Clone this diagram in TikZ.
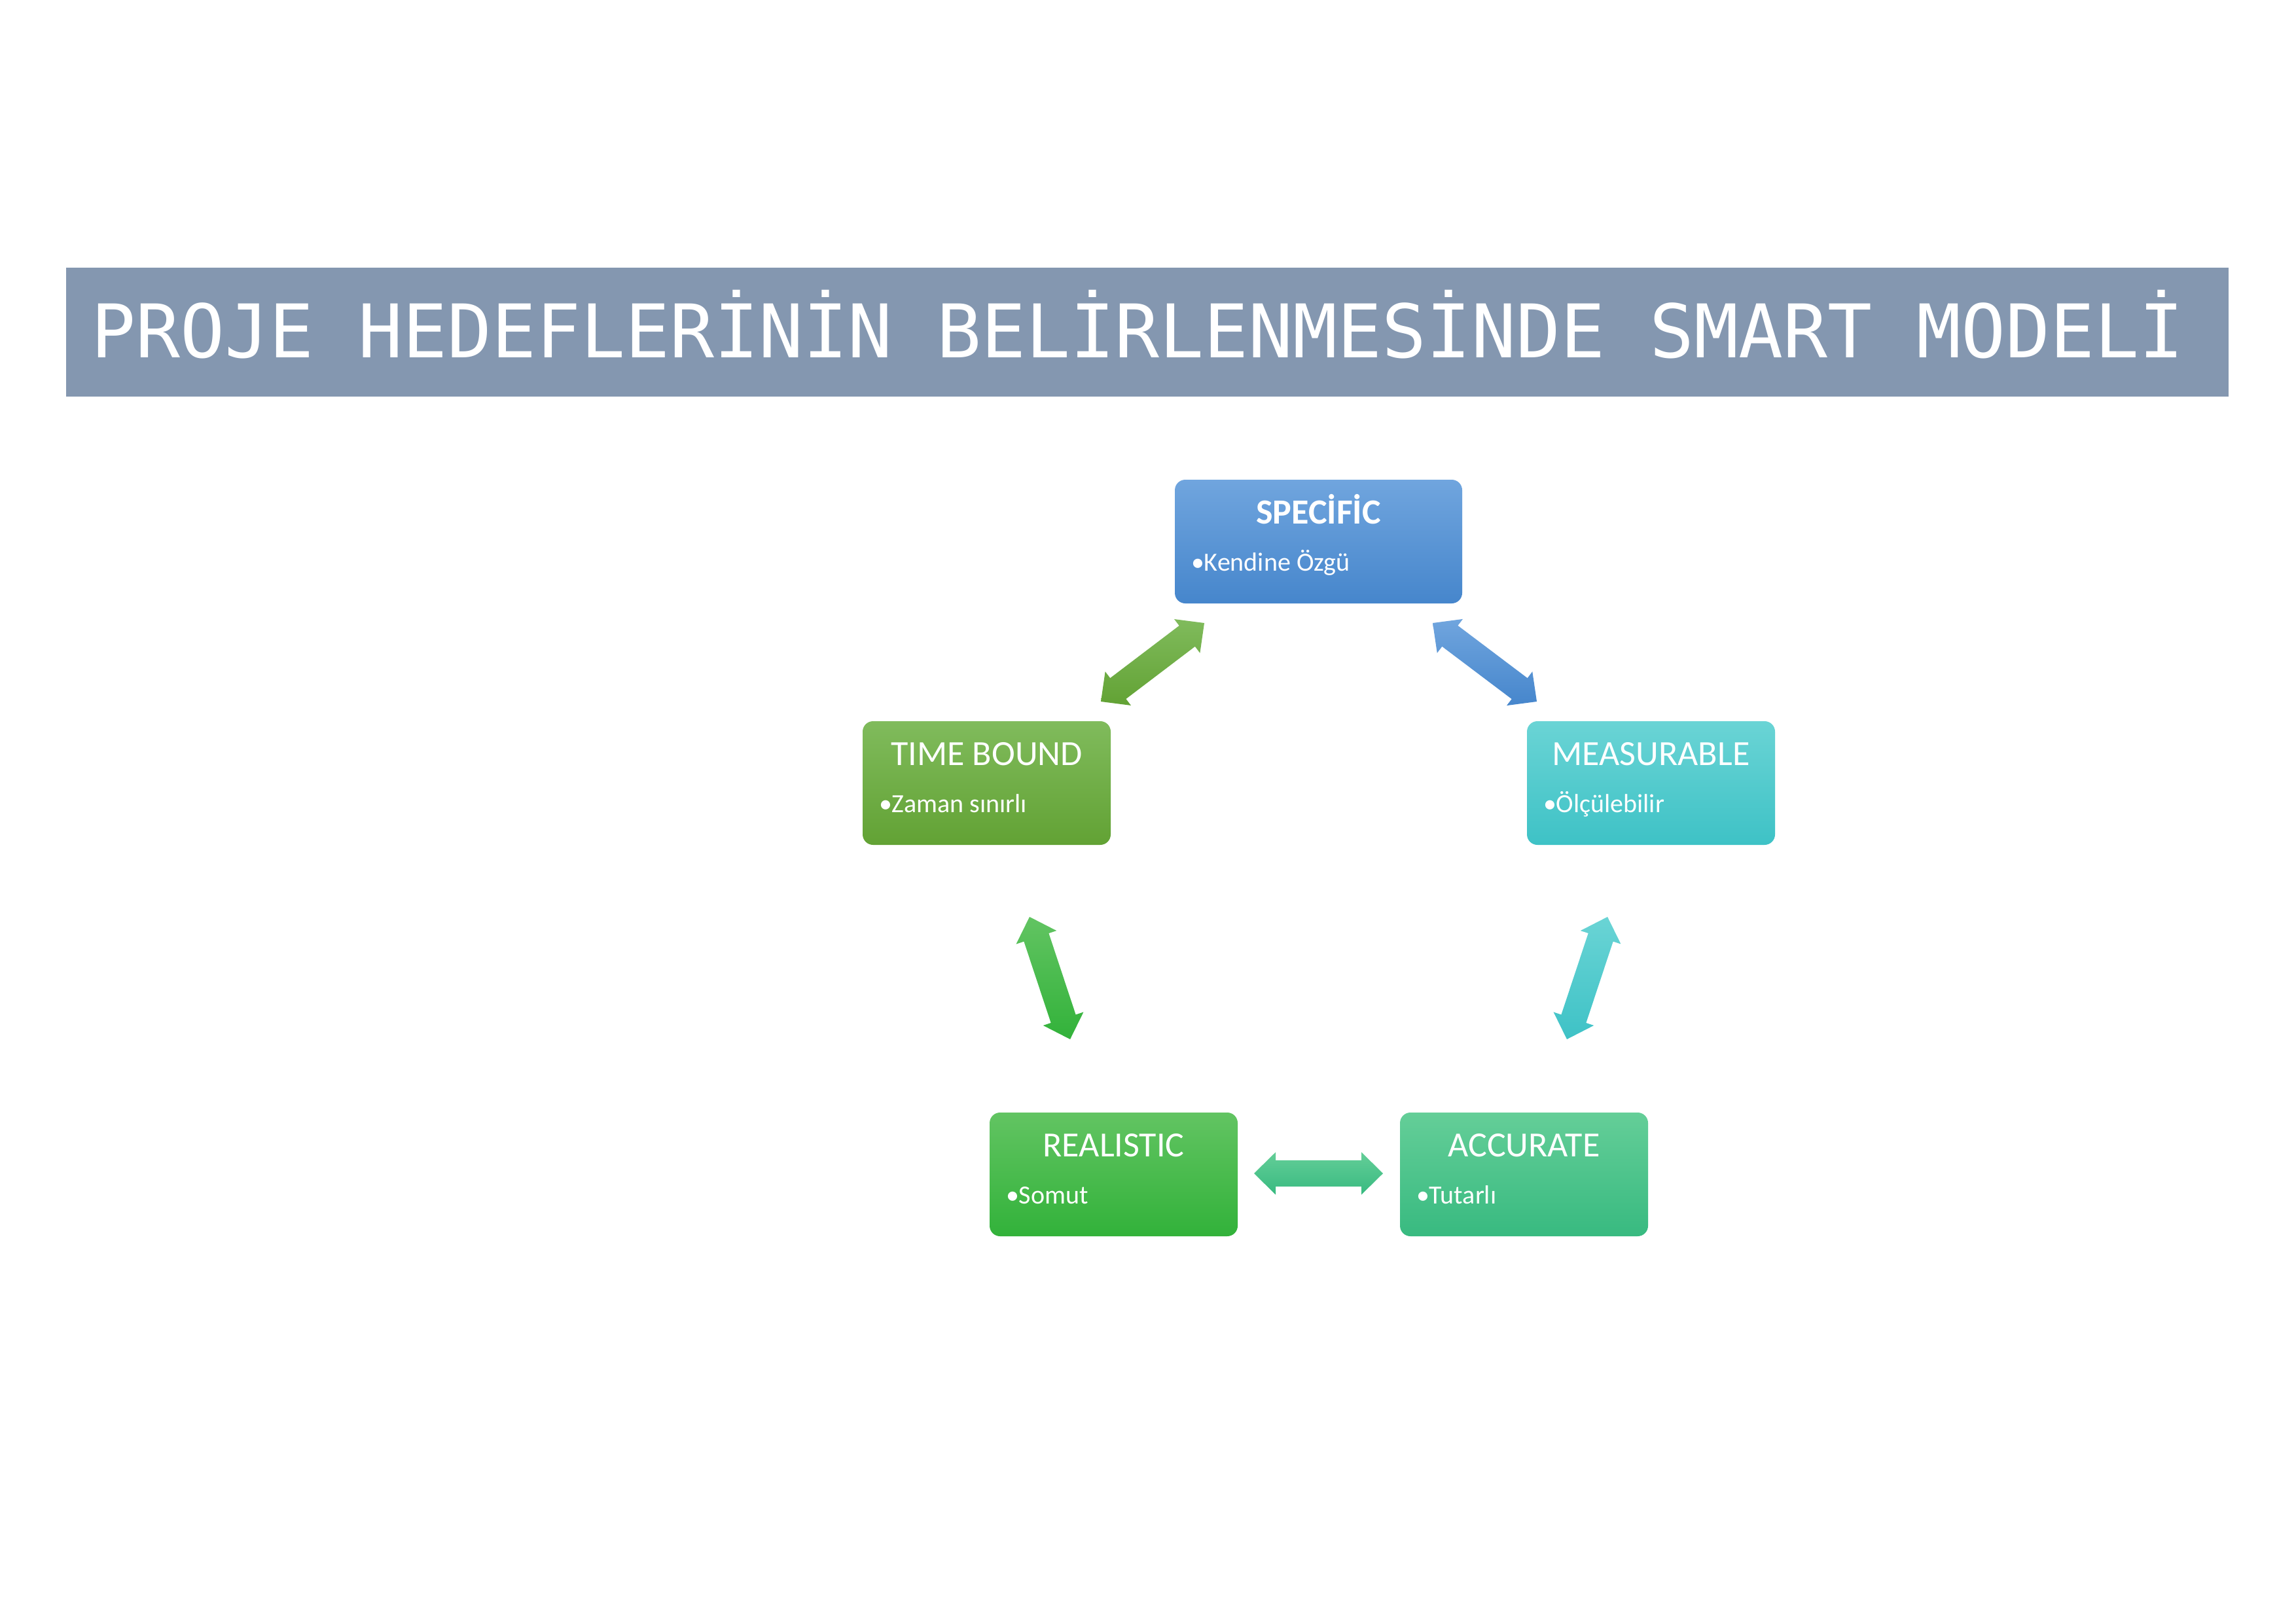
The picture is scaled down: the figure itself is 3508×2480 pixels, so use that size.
\documentclass[tikz,border=0pt]{standalone}
\usepackage{fontspec}
\setmainfont{Carlito}
\newfontfamily\titlemono{DejaVu Sans Mono}
\usetikzlibrary{calc}
\definecolor{barblue}{RGB}{132,151,176}
\definecolor{specT}{RGB}{112,165,222}
\definecolor{specB}{RGB}{70,134,204}
\definecolor{timeT}{RGB}{128,187,92}
\definecolor{timeB}{RGB}{98,162,52}
\definecolor{measT}{RGB}{106,212,213}
\definecolor{measB}{RGB}{62,194,198}
\definecolor{realT}{RGB}{98,196,98}
\definecolor{realB}{RGB}{50,178,58}
\definecolor{accT}{RGB}{100,206,152}
\definecolor{accB}{RGB}{56,186,128}
\newcommand{\dblarrow}[4]{%
\shade[top color=#3, bottom color=#4]
 (#1) -- ($(#1)!33pt!(#2)!32.5pt!90:(#2)$) -- ($(#1)!33pt!(#2)!20pt!90:(#2)$)
 -- ($(#2)!33pt!(#1)!20pt!-90:(#1)$) -- ($(#2)!33pt!(#1)!32.5pt!-90:(#1)$)
 -- (#2) -- ($(#2)!33pt!(#1)!32.5pt!90:(#1)$) -- ($(#2)!33pt!(#1)!20pt!90:(#1)$)
 -- ($(#1)!33pt!(#2)!20pt!-90:(#2)$) -- ($(#1)!33pt!(#2)!32.5pt!-90:(#2)$) -- cycle;}
\begin{document}
\begin{tikzpicture}[x=1pt,y=-1pt,
  box/.style={rectangle, rounded corners=16pt, minimum height=189pt, inner sep=0pt, draw=none},
  boxtitle/.style={anchor=base, text=white, font=\fontsize{54}{60}\selectfont, inner sep=0pt},
  bulletline/.style={anchor=base west, text=white, font=\fontsize{40}{46}\selectfont, inner sep=0pt},
]
\useasboundingbox (0,0) rectangle (3508,2480);
\fill[white] (0,0) rectangle (3508,2480);
\node[fill=barblue, anchor=north west, minimum width=3304pt, minimum height=197pt, inner sep=0pt] (bar) at (101,409) {};
\node[anchor=base west, text=white, font=\titlemono\fontsize{113}{120}\selectfont, inner sep=0pt] (title) at (139,546) {PROJE HEDEFLERİNİN BELİRLENMESİNDE SMART MODELİ};

% boxes
\node[box, minimum width=439pt, top color=specT, bottom color=specB] (spec) at (2014.5,827.5) {};
\node[boxtitle, font=\bfseries\fontsize{54}{60}\selectfont] (specH) at ($(spec.north)+(0,68)$) {SPECİFİC};
\node[bulletline] (specL) at ($(spec.north west)+(25,140)$) {•Kendine Özgü};

\node[box, minimum width=379pt, top color=timeT, bottom color=timeB] (time) at (1507.5,1196.5) {};
\node[boxtitle] (timeH) at ($(time.north)+(0,68)$) {TIME BOUND};
\node[bulletline] (timeL) at ($(time.north west)+(25,140)$) {•Zaman sınırlı};

\node[box, minimum width=379pt, top color=measT, bottom color=measB] (meas) at (2522.5,1196.5) {};
\node[boxtitle] (measH) at ($(meas.north)+(0,68)$) {MEASURABLE};
\node[bulletline] (measL) at ($(meas.north west)+(25,140)$) {•Ölçülebilir};

\node[box, minimum width=379pt, top color=realT, bottom color=realB] (real) at (1701.5,1794.5) {};
\node[boxtitle] (realH) at ($(real.north)+(0,68)$) {REALISTIC};
\node[bulletline] (realL) at ($(real.north west)+(25,140)$) {•Somut};

\node[box, minimum width=379pt, top color=accT, bottom color=accB] (acc) at (2328.5,1794.5) {};
\node[boxtitle] (accH) at ($(acc.north)+(0,68)$) {ACCURATE};
\node[bulletline] (accL) at ($(acc.north west)+(25,140)$) {•Tutarlı};

% arrow end points
\coordinate (ts1) at (1682,1072); \coordinate (ts2) at (1840,952);
\coordinate (sm1) at (2189,952);  \coordinate (sm2) at (2348,1072);
\coordinate (tr1) at (1573,1401); \coordinate (tr2) at (1635,1588);
\coordinate (ma1) at (2456,1401); \coordinate (ma2) at (2394,1588);
\coordinate (ra1) at (1916,1793); \coordinate (ra2) at (2113,1793);

\dblarrow{ts1}{ts2}{timeT}{timeB}
\dblarrow{sm1}{sm2}{specT}{specB}
\dblarrow{tr1}{tr2}{realT}{realB}
\dblarrow{ma1}{ma2}{measT}{measB}
\dblarrow{ra1}{ra2}{accT}{accB}
\end{tikzpicture}
\end{document}
